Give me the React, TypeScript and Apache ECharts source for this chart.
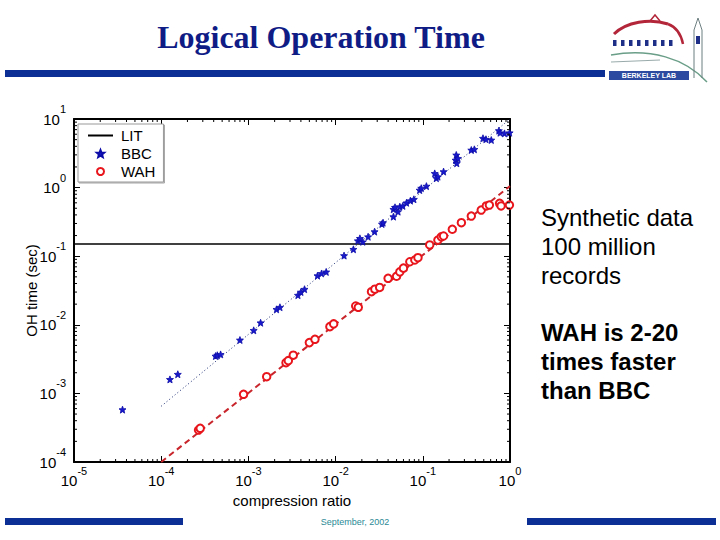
import React, { useEffect, useRef } from "react";
import * as echarts from "echarts";

// ---- data ----
const xTickLabels = ["10^-5", "10^-4", "10^-3", "10^-2", "10^-1", "10^0"];
const yTickLabels = ["10^-4", "10^-3", "10^-2", "10^-1", "10^0", "10^1"];
const X_MIN = 1e-5;
const X_MAX = 1;
const Y_MIN = 1e-4;
const Y_MAX = 10;

const litLevel = 0.15;

const bbcX = [3.6e-5, 1.26e-4, 1.55e-4, 4.2e-4, 4.4e-4, 4.8e-4, 8.0e-4, 1.15e-3, 1.38e-3, 2.1e-3, 2.3e-3, 3.7e-3, 4.0e-3, 4.4e-3, 6.2e-3, 6.9e-3, 7.8e-3, 1.25e-2, 1.6e-2, 1.8e-2, 2.05e-2, 1.9e-2, 2.36e-2, 2.8e-2, 3.4e-2, 3.5e-2, 4.6e-2, 4.6e-2, 4.8e-2, 5.2e-2, 5.45e-2, 5.9e-2, 6.5e-2, 7.2e-2, 7.9e-2, 9.2e-2, 9.6e-2, 0.11, 0.137, 0.143, 0.149, 0.173, 0.242, 0.238, 0.245, 0.253, 0.36, 0.39, 0.49, 0.53, 0.61, 0.745, 0.77, 0.865, 0.99];
const bbcY = [5.8e-4, 1.6e-3, 1.9e-3, 3.5e-3, 3.6e-3, 3.7e-3, 6.0e-3, 8.3e-3, 1.07e-2, 1.68e-2, 1.8e-2, 2.7e-2, 3.0e-2, 3.3e-2, 5.2e-2, 5.6e-2, 5.9e-2, 0.102, 0.126, 0.168, 0.162, 0.182, 0.192, 0.228, 0.294, 0.308, 0.377, 0.483, 0.516, 0.446, 0.527, 0.54, 0.6, 0.644, 0.675, 0.92, 0.98, 1.05, 1.61, 1.37, 1.44, 1.71, 2.99, 2.52, 2.26, 2.67, 3.53, 3.61, 5.24, 5.06, 4.94, 6.76, 6.3, 6.17, 6.3];

const wahX = [2.68e-4, 2.8e-4, 8.8e-4, 1.62e-3, 2.7e-3, 2.87e-3, 3.27e-3, 5.0e-3, 5.8e-3, 8.6e-3, 9.5e-3, 1.7e-2, 1.82e-2, 2.58e-2, 2.82e-2, 3.2e-2, 4.0e-2, 5.0e-2, 5.45e-2, 6.0e-2, 7.1e-2, 8.1e-2, 8.8e-2, 0.12, 0.149, 0.163, 0.173, 0.218, 0.277, 0.36, 0.468, 0.535, 0.58, 0.76, 0.79, 0.985];
const wahY = [2.92e-4, 3.1e-4, 9.7e-4, 1.75e-3, 2.8e-3, 3.0e-3, 3.6e-3, 5.5e-3, 6.15e-3, 9.4e-3, 1.03e-2, 1.88e-2, 1.8e-2, 3.04e-2, 3.3e-2, 3.5e-2, 4.76e-2, 5.1e-2, 5.9e-2, 6.7e-2, 8.3e-2, 8.8e-2, 9.5e-2, 0.146, 0.172, 0.192, 0.197, 0.247, 0.308, 0.385, 0.471, 0.54, 0.557, 0.59, 0.54, 0.557];

// fitted reference lines (end points)
const bbcFitX = [1e-4, 1];
const bbcFitY = [6.5e-4, 10];
const wahFitX = [1e-4, 1];
const wahFitY = [1e-4, 1.05];

const minorMult = [2, 3, 4, 5, 6, 7, 8, 9];
const xDecades = [1e-5, 1e-4, 1e-3, 1e-2, 1e-1];
const yDecades = [1e-4, 1e-3, 1e-2, 1e-1, 1];

const FONT = '"Liberation Sans", Arial, Helvetica, sans-serif';
const STAR = "path://M0,-10 L2.6,-3.4 L9.51,-3.09 L4.2,1.4 L5.88,8.09 L0,4.4 L-5.88,8.09 L-4.2,1.4 L-9.51,-3.09 L-2.6,-3.4 Z";

function expLabel(v: number) {
  const e = Math.round(Math.log10(v));
  return `{b|10}{s|${e}}`;
}

export default function App() {
  const ref = useRef<HTMLDivElement>(null);
  useEffect(() => {
    if (!ref.current) return;
    const chart = echarts.init(ref.current, null, { renderer: "svg" });

    const xMinor: number[][] = [];
    xDecades.forEach((d) => minorMult.forEach((m) => xMinor.push([d * m, Y_MIN])));
    const yMinor: number[][] = [];
    yDecades.forEach((d) => minorMult.forEach((m) => yMinor.push([X_MIN, d * m])));

    const rich = {
      b: { fontSize: 15, fontFamily: FONT, color: "#000", padding: [8, 0, 8, 0] },
      s: { fontSize: 11, fontFamily: FONT, color: "#000", verticalAlign: "top" },
    };
    const axisLine = { show: true, lineStyle: { color: "#000", width: 2 } };
    const axisTick = { show: true, inside: true, length: 6, lineStyle: { color: "#000", width: 1 } };

    const BLUE = "#0b2f94";
    const option: any = {
      animation: false,
      backgroundColor: "#fff",
      grid: { left: 74, top: 119, width: 436, height: 343, containLabel: false },
      legend: {
        data: [
          { name: "LIT", itemStyle: { opacity: 0 } },
          { name: "BBC" },
          { name: "WAH" },
        ],
        orient: "vertical",
        left: 78,
        top: 124,
        padding: [4, 8, 3, 9],
        itemWidth: 25,
        itemHeight: 7,
        itemGap: 3,
        selectedMode: false,
        borderColor: "#999",
        borderWidth: 1,
        backgroundColor: "#fff",
        shadowColor: "rgba(0,0,0,0.35)",
        shadowOffsetX: 1,
        shadowOffsetY: 1,
        shadowBlur: 1,
        textStyle: { fontSize: 15, fontFamily: FONT, color: "#000", lineHeight: 15, padding: [0, 0, 0, 3] },
      },
      xAxis: [
        {
          type: "log",
          logBase: 10,
          min: X_MIN,
          max: X_MAX,
          position: "bottom",
          axisLine,
          axisTick,
          splitLine: { show: false },
          axisLabel: { formatter: expLabel, rich, margin: 3 },
          name: "compression ratio",
          nameLocation: "middle",
          nameGap: 31,
          nameMoveOverlap: false,
          nameTextStyle: { fontSize: 15, fontFamily: FONT, color: "#000" },
        },
        {
          type: "log",
          logBase: 10,
          min: X_MIN,
          max: X_MAX,
          position: "top",
          axisLine,
          axisTick,
          splitLine: { show: false },
          axisLabel: { show: false },
        },
      ],
      yAxis: [
        {
          type: "log",
          logBase: 10,
          min: Y_MIN,
          max: Y_MAX,
          position: "left",
          axisLine,
          axisTick,
          splitLine: { show: false },
          axisLabel: { formatter: expLabel, rich, margin: 8 },
          name: "OH time (sec)",
          nameLocation: "middle",
          nameGap: 35,
          nameMoveOverlap: false,
          nameTextStyle: { fontSize: 15, fontFamily: FONT, color: "#000" },
        },
        {
          type: "log",
          logBase: 10,
          min: Y_MIN,
          max: Y_MAX,
          position: "right",
          axisLine,
          axisTick,
          splitLine: { show: false },
          axisLabel: { show: false },
        },
      ],
      series: [
        {
          name: "LIT",
          type: "line",
          data: [[X_MIN, litLevel], [X_MAX, litLevel]],
          symbol: "none",
          lineStyle: { color: "#000", width: 1.5 },
          itemStyle: { color: "#000" },
          z: 3,
        },
        {
          name: "BBC fit",
          type: "line",
          data: bbcFitX.map((x, i) => [x, bbcFitY[i]]),
          symbol: "none",
          lineStyle: { color: "#1a2a70", width: 1, type: [1, 2.5] },
          z: 3,
        },
        {
          name: "WAH fit",
          type: "line",
          data: wahFitX.map((x, i) => [x, wahFitY[i]]),
          symbol: "none",
          lineStyle: { color: "#c8262c", width: 2, type: [6, 4] },
          z: 3,
        },
        {
          name: "BBC",
          type: "scatter",
          data: bbcX.map((x, i) => [x, bbcY[i]]),
          symbol: STAR,
          symbolSize: 7,
          itemStyle: { color: "#1818cc", borderColor: "#0c0ca8", borderWidth: 0.8, opacity: 1 },
          z: 4,
        },
        {
          name: "WAH",
          type: "scatter",
          data: wahX.map((x, i) => [x, wahY[i]]),
          symbol: "emptyCircle",
          symbolSize: 7.5,
          itemStyle: { color: "#e8161c", borderColor: "#e8161c", borderWidth: 1.8, opacity: 1 },
          z: 4,
        },
        {
          name: "xminor",
          type: "custom",
          xAxisIndex: 0,
          yAxisIndex: 0,
          silent: true,
          clip: false,
          data: xMinor,
          renderItem: (params: any, api: any) => {
            const v = api.value(0);
            const b = api.coord([v, Y_MIN]);
            const t = api.coord([v, Y_MAX]);
            return {
              type: "group",
              children: [
                { type: "line", shape: { x1: b[0], y1: b[1], x2: b[0], y2: b[1] - 3 }, style: { stroke: "#000", lineWidth: 1 } },
                { type: "line", shape: { x1: t[0], y1: t[1], x2: t[0], y2: t[1] + 3 }, style: { stroke: "#000", lineWidth: 1 } },
              ],
            };
          },
          z: 5,
        },
        {
          name: "yminor",
          type: "custom",
          xAxisIndex: 0,
          yAxisIndex: 0,
          silent: true,
          clip: false,
          data: yMinor,
          renderItem: (params: any, api: any) => {
            const v = api.value(1);
            const l = api.coord([X_MIN, v]);
            const r = api.coord([X_MAX, v]);
            return {
              type: "group",
              children: [
                { type: "line", shape: { x1: l[0], y1: l[1], x2: l[0] + 3, y2: l[1] }, style: { stroke: "#000", lineWidth: 1 } },
                { type: "line", shape: { x1: r[0], y1: r[1], x2: r[0] - 3, y2: r[1] }, style: { stroke: "#000", lineWidth: 1 } },
              ],
            };
          },
          z: 5,
        },
      ],
      graphic: [
        {
          type: "text",
          style: { text: "Logical Operation Time", x: 321, y: 37, align: "center", verticalAlign: "middle", font: 'bold 32px "Liberation Serif", "Times New Roman", serif', fill: "#101c86" },
        },
        { type: "rect", shape: { x: 5, y: 70, width: 600, height: 7 }, style: { fill: BLUE } },
        { type: "rect", shape: { x: 5, y: 518, width: 178, height: 7 }, style: { fill: BLUE } },
        { type: "rect", shape: { x: 527, y: 518, width: 189, height: 7 }, style: { fill: BLUE } },
        {
          type: "text",
          style: { text: "September, 2002", x: 355, y: 522, align: "center", verticalAlign: "middle", font: '9px "Liberation Sans", Arial, sans-serif', fill: "#2a8a96" },
        },
        {
          type: "text",
          style: { text: "Synthetic data\n100 million\nrecords", x: 541, y: 203, align: "left", verticalAlign: "top", font: '24px "Liberation Sans", Arial, sans-serif', lineHeight: 29, fill: "#000" },
        },
        {
          type: "text",
          style: { text: "WAH is 2-20\ntimes faster\nthan BBC", x: 541, y: 318, align: "left", verticalAlign: "top", font: 'bold 24px "Liberation Sans", Arial, sans-serif', lineHeight: 29, fill: "#000" },
        },
        // Berkeley Lab logo (approximation)
        { type: "bezierCurve", shape: { x1: 614, y1: 34, cpx1: 626, cpy1: 22, cpx2: 650, cpy2: 18, x2: 668, y2: 24 }, style: { stroke: "#b3263a", lineWidth: 3, fill: null } },
        { type: "polyline", shape: { points: [[650, 21], [655, 15], [660, 21]] }, style: { stroke: "#b3263a", lineWidth: 1.5, fill: null } },
        { type: "bezierCurve", shape: { x1: 668, y1: 24, cpx1: 676, cpy1: 27, cpx2: 681, cpy2: 34, x2: 683, y2: 44 }, style: { stroke: "#b3263a", lineWidth: 2.5, fill: null } },
        ...[0, 1, 2, 3, 4, 5, 6, 7].map((i) => ({ type: "rect", shape: { x: 613 + i * 8, y: 40, width: 3.5, height: 6 }, style: { fill: "#1d2f86" } })),
        { type: "bezierCurve", shape: { x1: 611, y1: 55, cpx1: 650, cpy1: 48, cpx2: 685, cpy2: 58, x2: 707, y2: 82 }, style: { stroke: "#6a9e88", lineWidth: 1.5, fill: null } },
        { type: "line", shape: { x1: 611, y1: 62, x2: 660, y2: 60 }, style: { stroke: "#9aa", lineWidth: 1 } },
        { type: "polyline", shape: { points: [[694, 78], [694, 30], [698, 18], [702, 30], [702, 78]] }, style: { stroke: "#6d7f80", lineWidth: 1, fill: null } },
        { type: "rect", shape: { x: 696, y: 36, width: 4, height: 8 }, style: { fill: "#1d2f86" } },
        { type: "rect", shape: { x: 609, y: 71, width: 80, height: 9 }, style: { fill: "#2b4aa0" } },
        { type: "text", style: { text: "BERKELEY LAB", x: 649, y: 75.5, align: "center", verticalAlign: "middle", font: 'bold 7px "Liberation Sans", Arial, sans-serif', fill: "#fff" } },
      ],
    };
    chart.setOption(option);
    return () => chart.dispose();
  }, []);
  return <div ref={ref} style={{ position: "fixed", left: 0, top: 0, width: 720, height: 540 }} />;
}
